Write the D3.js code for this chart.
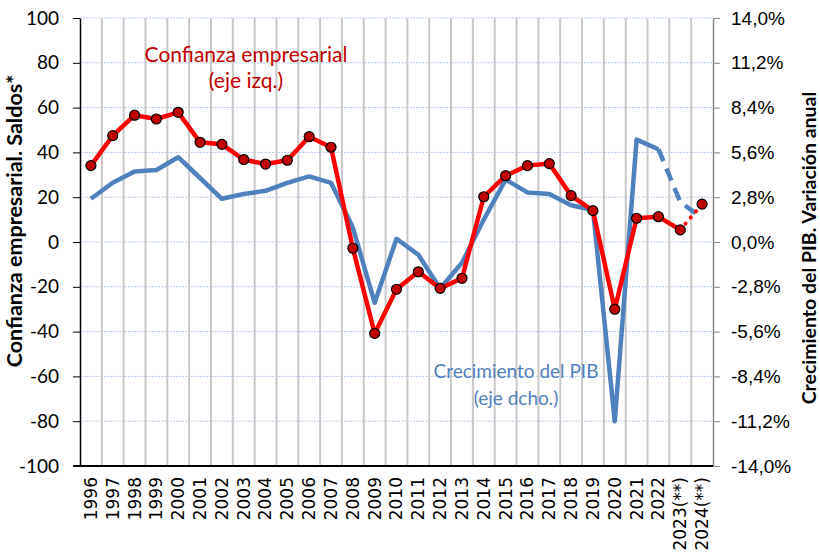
<!DOCTYPE html>
<html>
<head>
<meta charset="utf-8">
<script src="https://cdn.jsdelivr.net/npm/d3@7"></script>
<style>
  body { margin: 0; background: #fff; }
</style>
</head>
<body>
<div id="chart"></div>
<script>
// years on the x axis
let years = ["1996","1997","1998","1999","2000","2001","2002","2003","2004","2005",
  "2006","2007","2008","2009","2010","2011","2012","2013","2014","2015","2016",
  "2017","2018","2019","2020","2021","2022","2023(**)","2024(**)"];
// business confidence, balance (left axis)
let confianza = [34.1,47.5,56.6,54.9,57.9,44.5,43.6,36.8,34.8,36.5,47.0,42.3,-2.8,-40.8,
  -21.1,-13.3,-20.7,-16.2,20.2,29.6,34.1,35.0,20.7,14.0,-30.0,10.6,11.3,5.4,16.9];
// GDP growth, % (right axis)
let pib = [2.7,3.7,4.4,4.5,5.3,4.0,2.7,3.0,3.2,3.7,4.1,3.7,0.9,-3.8,0.2,-0.8,-2.9,-1.3,
  1.4,3.9,3.1,3.0,2.3,2.0,-11.2,6.4,5.8,2.5,1.5];
let leftTicks = [-100,-80,-60,-40,-20,0,20,40,60,80,100];
let rightTicks = [-14,-11.2,-8.4,-5.6,-2.8,0,2.8,5.6,8.4,11.2,14];

let margin = {top: 18, right: 107, bottom: 93, left: 80};
let width = 820 - margin.left - margin.right;
let height = 559 - margin.top - margin.bottom;

let svg = d3.select("#chart")
  .append("svg")
    .attr("width", 820)
    .attr("height", 559)
  .append("g")
    .attr("transform", "translate(" + margin.left + "," + margin.top + ")");

let x = d3.scaleBand()
  .domain(years)
  .range([0, width])
  .padding(0);

let yL = d3.scaleLinear().domain([-100, 100]).range([height, 0]);
let yR = d3.scaleLinear().domain([-14, 14]).range([height, 0]);

// horizontal grid (dotted light blue)
svg.append("g")
  .selectAll("line")
  .data(leftTicks)
  .enter().append("line")
    .attr("x1", 0).attr("x2", width)
    .attr("y1", d => yL(d)).attr("y2", d => yL(d))
    .attr("stroke", "#b7cdee")
    .attr("stroke-width", 1)
    .attr("stroke-dasharray", "2,1");

// vertical grid at band edges
svg.append("g")
  .selectAll("line")
  .data(years.slice(1))
  .enter().append("line")
    .attr("x1", d => x(d)).attr("x2", d => x(d))
    .attr("y1", 0).attr("y2", height)
    .attr("stroke", "#c8c8c8")
    .attr("stroke-width", 2);

// left axis
let axL = svg.append("g")
  .call(d3.axisLeft(yL).tickValues(leftTicks).tickSize(7).tickSizeOuter(0).tickPadding(14)
    .tickFormat(d => String(d)));
axL.select(".domain").attr("stroke", "#000").attr("stroke-width", 1.5);
axL.selectAll(".tick line").attr("stroke", "#000");
axL.selectAll("text")
  .style("font-family", "Lato, sans-serif").style("font-size", "19px").attr("fill", "#000");

// right axis
let axR = svg.append("g")
  .attr("transform", "translate(" + width + ",0)")
  .call(d3.axisRight(yR).tickValues(rightTicks).tickSize(7).tickSizeOuter(0).tickPadding(11)
    .tickFormat(d => d3.format(".1f")(d).replace(".", ",").replace("−", "-") + "%"));
axR.select(".domain").attr("stroke", "#888").attr("stroke-width", 1.5);
axR.selectAll(".tick line").attr("stroke", "#888");
axR.selectAll("text")
  .style("font-family", "'Liberation Sans', Arial, sans-serif").style("font-size", "19px")
  .attr("fill", "#000");

// bottom axis
let axB = svg.append("g")
  .attr("transform", "translate(0," + height + ")")
  .call(d3.axisBottom(x).tickSize(0).tickSizeOuter(0));
axB.select(".domain").remove();
axB.append("line")
  .attr("x1", -7).attr("x2", width)
  .attr("stroke", "#000").attr("stroke-width", 2);
axB.selectAll("text")
  .style("font-family", "'DejaVu Sans', sans-serif")
  .style("font-size", "17px")
  .attr("fill", "#000")
  .attr("text-anchor", "end")
  .attr("dy", "0.35em")
  .attr("transform", "translate(0,11) rotate(-90)")
  .attr("x", 0).attr("y", 0);

let cx = d => x(d) + x.bandwidth() / 2;
let last = years.length - 1;
let idx = years.map((d, i) => i);

// GDP line: solid, then dashed for the last two years
let linePib = d3.line().x(i => cx(years[i])).y(i => yR(pib[i]));
svg.append("path")
  .datum(idx.slice(0, last - 1))
  .attr("fill", "none").attr("stroke", "#4f81bd").attr("stroke-width", 4.5)
  .attr("stroke-linejoin", "round")
  .attr("d", linePib);
svg.append("path")
  .datum(idx.slice(last - 2))
  .attr("fill", "none").attr("stroke", "#4f81bd").attr("stroke-width", 4.5)
  .attr("stroke-dasharray", "13,8")
  .attr("d", linePib);

// confidence line: solid, then dotted for the last year
let lineConf = d3.line().x(i => cx(years[i])).y(i => yL(confianza[i]));
svg.append("path")
  .datum(idx.slice(0, last))
  .attr("fill", "none").attr("stroke", "#ff0000").attr("stroke-width", 4.5)
  .attr("stroke-linejoin", "round")
  .attr("d", lineConf);
svg.append("path")
  .datum(idx.slice(last - 1))
  .attr("fill", "none").attr("stroke", "#ff0000").attr("stroke-width", 4)
  .attr("stroke-dasharray", "0.1,8").attr("stroke-linecap", "round")
  .attr("d", lineConf);

svg.append("g")
  .selectAll("circle")
  .data(confianza)
  .enter().append("circle")
    .attr("cx", (d, i) => cx(years[i]))
    .attr("cy", d => yL(d))
    .attr("r", 5)
    .attr("fill", "#c00000")
    .attr("stroke", "#000")
    .attr("stroke-width", 1.2);

// series labels
let redLbl = svg.append("text")
  .attr("text-anchor", "middle").attr("fill", "#c00000")
  .style("font-family", "Lato, sans-serif").style("font-size", "21px");
redLbl.append("tspan").attr("x", 166).attr("y", 44).text("Confianza empresarial");
redLbl.append("tspan").attr("x", 166).attr("y", 70).text("(eje izq.)");

let blueLbl = svg.append("text")
  .attr("text-anchor", "middle").attr("fill", "#4f81bd")
  .style("font-family", "Lato, sans-serif").style("font-size", "19px");
blueLbl.append("tspan").attr("x", 436).attr("y", 360).text("Crecimiento del PIB");
blueLbl.append("tspan").attr("x", 436).attr("y", 387).text("(eje dcho.)");

// axis titles
svg.append("text")
  .attr("transform", "translate(" + (-58) + "," + 203 + ") rotate(-90)")
  .attr("text-anchor", "middle")
  .style("font-family", "Lato, sans-serif").style("font-weight", "bold").style("font-size", "21.5px")
  .text("Confianza empresarial. Saldos*");

svg.append("text")
  .attr("transform", "translate(" + (width + 103) + "," + 230 + ") rotate(-90)")
  .attr("text-anchor", "middle")
  .style("font-family", "Lato, sans-serif").style("font-weight", "bold").style("font-size", "19.5px")
  .text("Crecimiento del PIB. Variación anual");
</script>
</body>
</html>
